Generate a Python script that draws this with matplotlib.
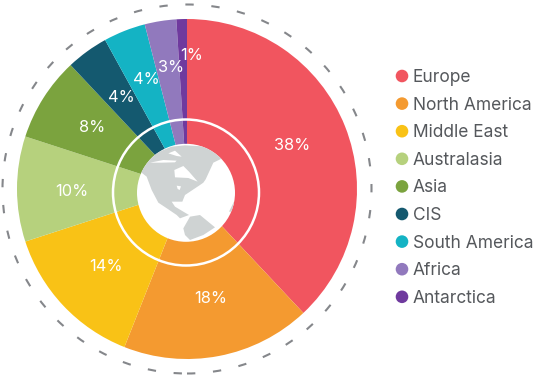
import matplotlib
matplotlib.use("Agg")
import matplotlib.pyplot as plt
from matplotlib.patches import Circle, Polygon

regions = ["Europe", "North America", "Middle East", "Australasia", "Asia",
           "CIS", "South America", "Africa", "Antarctica"]
shares = [38, 18, 14, 10, 8, 4, 4, 3, 1]
colors = ["#f1555f", "#f49a30", "#f9c216", "#b6d17d", "#7ba33e",
          "#14596f", "#14b3c4", "#9179bd", "#6f3a9e"]

W, H = 542, 378
CX, CY = 187, 189
LAND = "#cfd3d3"
# label spots, pixels from top left
label_xy = [(292, 144), (211, 297), (106, 265), (72, 190), (92, 126),
            (121, 96), (146, 78), (171, 66), (192, 54)]

# land outlines in the globe crop, 3x pixels from (135, 140)
land_crop = [
  [(12, 92), (30, 62), (65, 38), (110, 20), (150, 16), (220, 20), (268, 52),
   (235, 68), (212, 118), (205, 128), (195, 135), (150, 165), (142, 185),
   (110, 185), (120, 200), (145, 215), (162, 225), (135, 235), (125, 225),
   (100, 208), (70, 188), (50, 150), (35, 110)],
  [(145, 265), (165, 230), (195, 225), (240, 262), (205, 285), (165, 300),
   (150, 285)],
  [(282, 215), (297, 185), (297, 215)],
]
water_crop = [
  [(118, 90), (145, 78), (162, 95), (188, 125), (160, 114), (120, 112)],
  [(45, 68), (85, 60), (125, 62), (120, 67), (80, 68)],
  [(100, 40), (120, 32), (140, 50), (125, 48)],
  [(125, 137), (138, 139), (134, 150), (128, 147)],
]

fig = plt.figure(figsize=(W / 100, H / 100), dpi=100)
ax = fig.add_axes([0, 0, 1, 1])

def py(y):
  return H - y

def cropToData(outline):
  return [(135 + x / 3, py(140 + y / 3)) for x, y in outline]

ax.pie(shares, colors=colors, startangle=90, counterclock=False,
       radius=170, center=(CX, py(CY)), frame=True,
       wedgeprops={"linewidth": 0})

ax.add_patch(Circle((CX, py(CY)), 184.5, fill=False, ec="#85878b", lw=1.5,
                    ls=(0, (4, 8.5))))
ax.add_patch(Circle((186, py(192.5)), 73, fill=False, ec="white", lw=1.8))
globe = Circle((186, py(192.8)), 49, fc="white", ec="none", zorder=3)
ax.add_patch(globe)
for outline in land_crop:
  land = Polygon(cropToData(outline), fc=LAND, ec="none", zorder=4)
  ax.add_patch(land)
  land.set_clip_path(globe)
for outline in water_crop:
  ax.add_patch(Polygon(cropToData(outline), fc="white", ec="none", zorder=5))

for share, (x, y) in zip(shares, label_xy):
  ax.text(x, py(y + 1.5), f"{share}%", color="white", ha="center", va="center",
          fontsize=11.8, family="Inter", zorder=6)

for i, (region, color) in enumerate(zip(regions, colors)):
  y = 76 + i * 27.6
  ax.add_patch(Circle((402, py(y)), 6.3, fc=color, ec="none"))
  ax.text(413, py(y + 1.5), region, color="#55585c", ha="left", va="center",
          fontsize=12.5, family="Inter")

ax.set_xlim(0, W)
ax.set_ylim(0, H)
ax.set_aspect("equal")
ax.axis("off")
fig.savefig("out.png", dpi=100)
